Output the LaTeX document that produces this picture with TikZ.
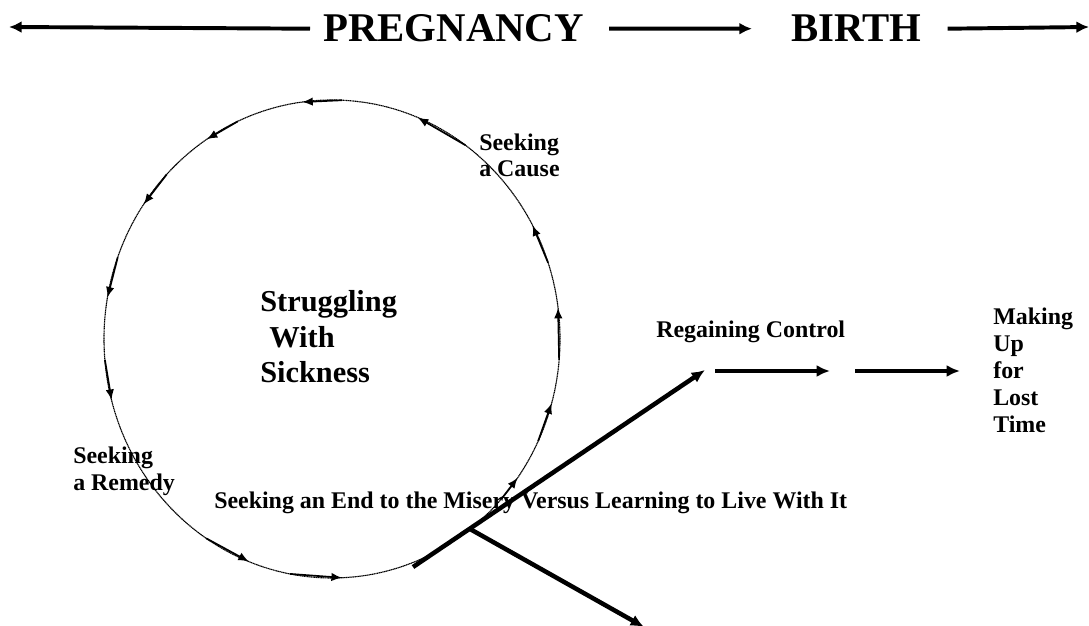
\documentclass[tikz,border=0pt]{standalone}
\usepackage{fontspec}
\setmainfont{Liberation Serif}
\usetikzlibrary{arrows.meta,calc}

\begin{document}
\begin{tikzpicture}[x=0.025cm,y=0.025cm,
        toptext/.style={font=\bfseries\fontsize{29}{34}\selectfont,inner sep=0pt},
        midtext/.style={font=\bfseries\fontsize{21.6}{25.5}\selectfont,inner sep=0pt,align=left},
        stagetext/.style={font=\bfseries\fontsize{17}{19.1}\selectfont,inner sep=0pt,align=left},
        toparrow/.style={line width=2.8pt,-{Latex[length=9pt,width=8.5pt]}},
        bigarrow/.style={line width=3.2pt,-{Latex[length=9.5pt,width=8.5pt]}},
        looparrow/.style={line width=1.2pt,-{Latex[length=7.5pt,width=6pt]}}]
                \useasboundingbox(0,0)rectangle(1089,625);
                \coordinate(C)at(332,286);
                \draw[line width=0.8pt,dash pattern=on 0.9pt off 0.35pt](C)ellipse(228 and 239);
                \foreach \a/\b in {87.5/97.5,54.2/67.9,114.4/123.3,136.5/145.7,160/170,185/194.8,
                        236.5/248.6,259.4/272.5,318/324.5,334.7/344.4,355/367.5,18.6/28.4}
                    \draw[looparrow]($(C)+(\a:228 and 239)$)--($(C)+(\b:228 and 239)$);
                \node[toptext,anchor=base west](preg)at(323,583){PREGNANCY};
                \node[toptext,anchor=base west](birth)at(791,583){BIRTH};
                \coordinate(leftend)at(9,598);
                \coordinate(rightend)at(1089,598);
                \draw[toparrow]($(preg.west)+(-13,0)$)--(leftend);
                \draw[toparrow]($(preg.east)+(25,0)$)--($(birth.west)+(-39,0)$);
                \draw[toparrow]($(birth.east)+(26,0)$)--(rightend);
                \node[midtext,anchor=base west](sick)at(260,242){Struggling\\\hspace*{.3em}With\\Sickness};
                \node[stagetext,anchor=base west](cause)at(479,448){Seeking\\a Cause};
                \node[stagetext,anchor=base west](remedy)at(73,135){Seeking\\a Remedy};
                \node[stagetext,anchor=base west](misery)at(214,117){Seeking an End to the Misery Versus Learning to Live With It};
                \node[stagetext,anchor=base west](regain)at(656,287){Regaining Control};
                \node[stagetext,anchor=base west](lost)at(993,193){Making\\Up\\for\\Lost\\Time};
                \coordinate(start)at(413,58);
                \coordinate(fork)at(470,96);
                \coordinate(hub)at(705,255);
                \coordinate(down)at(644,-2);
                \coordinate(mid1)at(830,254);
                \coordinate(mid2)at(855,254);
                \draw[bigarrow](start)--(hub);
                \draw[bigarrow](fork)--(down);
                \draw[bigarrow]($(hub)+(10,-1)$)--(mid1);
                \draw[bigarrow](mid2)--($(lost.west|-mid2)+(-33,0)$);
            \end{tikzpicture}
\end{document}
